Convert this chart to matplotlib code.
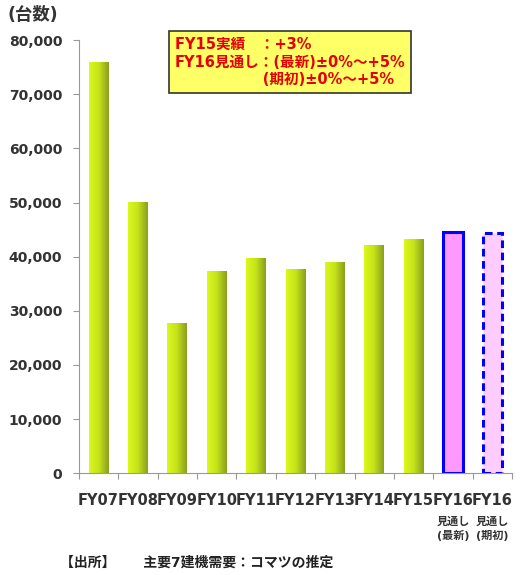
import matplotlib.pyplot as plt
import numpy as np
from matplotlib.colors import LinearSegmentedColormap
from matplotlib.transforms import blended_transform_factory

plt.rcParams['font.family'] = ['DejaVu Sans', 'Noto Sans CJK JP']

# データ
categories = ['FY07', 'FY08', 'FY09', 'FY10', 'FY11', 'FY12', 'FY13', 'FY14', 'FY15', 'FY16', 'FY16']
sublabels = ['', '', '', '', '', '', '', '', '', '見通し\n(最新)', '見通し\n(期初)']
units = [76000, 50200, 27700, 37300, 39700, 37700, 39000, 42100, 43200, 44600, 44300]
yticks = [0, 10000, 20000, 30000, 40000, 50000, 60000, 70000, 80000]

fig = plt.figure(figsize=(5.22, 5.75), dpi=100)
ax = fig.add_axes([0.151, 0.177, 0.830, 0.753])

x = np.arange(len(categories))
greenCmap = LinearSegmentedColormap.from_list('bar', ['#dcf81c', '#c4e21a', '#8a9f1e'])
grad = np.linspace(0, 1, 64).reshape(1, -1)

for i in range(len(categories)):
    if i < 9:
        bar = ax.bar(x[i], units[i], 0.5, color='none', edgecolor='none')[0]
        img = ax.imshow(grad, cmap=greenCmap, aspect='auto',
                        extent=[x[i] - 0.25, x[i] + 0.25, 0, units[i]], zorder=2)
        img.set_clip_path(bar)
    elif i == 9:
        ax.bar(x[i], units[i], 0.5, color='#ff99ff', edgecolor='#0000ff', linewidth=2.2, zorder=3)
    else:
        ax.bar(x[i], units[i], 0.5, color='#ffccff', edgecolor='#0000ff', linewidth=2.2,
               linestyle=(0, (2.5, 1.5)), zorder=3)

ax.set_xlim(-0.5, len(categories) - 0.5)
ax.set_ylim(0, 80000)
ax.set_yticks(yticks)
ax.set_yticklabels(['{:,}'.format(v) for v in yticks], fontsize=10, fontweight='bold', color='#333333')
ax.tick_params(axis='y', length=4, color='#999999', pad=8)

# x軸: 目盛は区切り位置、ラベルは棒の中央
ax.set_xticks(np.arange(-0.5, len(categories), 1.0))
ax.set_xticklabels([])
ax.tick_params(axis='x', length=4, color='#999999', direction='out')
trans = blended_transform_factory(ax.transData, ax.transAxes)
for i in range(len(categories)):
    ax.text(x[i], -0.045, categories[i], transform=trans, ha='center', va='top',
            fontsize=10.5, fontweight='bold', color='#333333')
    if sublabels[i]:
        ax.text(x[i], -0.1, sublabels[i], transform=trans, ha='center', va='top',
                fontsize=8, fontweight='bold', color='#333333', linespacing=1.4)

for s in ['top', 'right']:
    ax.spines[s].set_visible(False)
ax.spines['left'].set_color('#999999')
ax.spines['bottom'].set_color('#999999')

fig.text(0.015, 0.974, '(台数)', fontsize=12.5, fontweight='bold', color='#333333', va='center')

# 注記ボックス
fig.text(0.335, 0.892, 'FY15実績　：+3%\nFY16見通し：(最新)±0%～+5%\n　　　　　　(期初)±0%～+5%',
         fontsize=10.5, fontweight='bold', color='#e60000', va='center', ha='left', linespacing=1.2,
         bbox=dict(boxstyle='square,pad=0.4', facecolor='#ffff66', edgecolor='#333333', linewidth=1.2))

fig.text(0.115, 0.022, '【出所】　　主要7建機需要：コマツの推定', fontsize=10, fontweight='bold',
         color='#222222', va='center')

fig.savefig('out.png', dpi=100)
